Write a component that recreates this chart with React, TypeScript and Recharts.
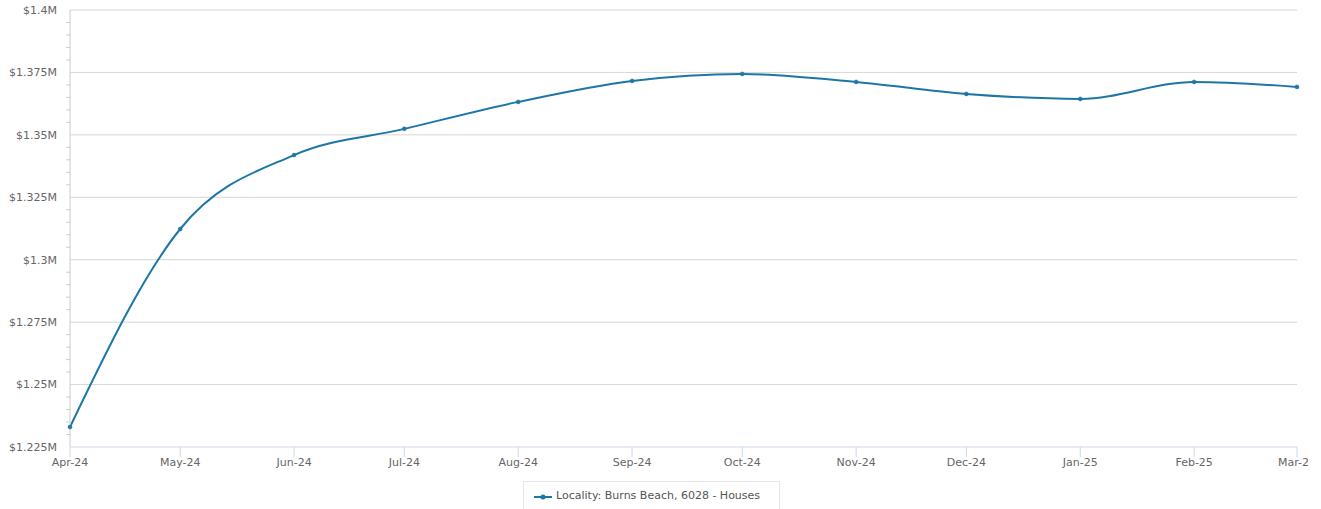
import React from 'react';
import { LineChart, Line, XAxis, YAxis, ReferenceLine, Legend } from 'recharts';

const monthLabels = ['Apr-24', 'May-24', 'Jun-24', 'Jul-24', 'Aug-24', 'Sep-24', 'Oct-24', 'Nov-24', 'Dec-24', 'Jan-25', 'Feb-25', 'Mar-25'];
const monthStarts = [
  Date.UTC(2024, 3, 1), Date.UTC(2024, 4, 1), Date.UTC(2024, 5, 1), Date.UTC(2024, 6, 1),
  Date.UTC(2024, 7, 1), Date.UTC(2024, 8, 1), Date.UTC(2024, 9, 1), Date.UTC(2024, 10, 1),
  Date.UTC(2024, 11, 1), Date.UTC(2025, 0, 1), Date.UTC(2025, 1, 1), Date.UTC(2025, 2, 1),
];
const medianPrice = [1233000, 1312300, 1341900, 1352400, 1363200, 1371600, 1374400, 1371200, 1366400, 1364400, 1371200, 1369200];

const majorTicks = [1225000, 1250000, 1275000, 1300000, 1325000, 1350000, 1375000, 1400000];
const minorTicks = [
  1230000, 1235000, 1240000, 1245000, 1255000, 1260000, 1265000, 1270000,
  1280000, 1285000, 1290000, 1295000, 1305000, 1310000, 1315000, 1320000,
  1330000, 1335000, 1340000, 1345000, 1355000, 1360000, 1365000, 1370000,
  1380000, 1385000, 1390000, 1395000,
];
const allTicks = [...majorTicks, ...minorTicks].sort((a, b) => a - b);

const SERIES_NAME = 'Locality: Burns Beach, 6028 - Houses';
const COLOR = '#1d76a5';
const LABEL_GAP = 13;

const data = monthStarts.map((t, i) => ({ t, price: medianPrice[i] }));

const fmtMoney = (v: number) => `$${+(v / 1e6).toFixed(3)}M`;
const fmtMonth = (t: number) => monthLabels[monthStarts.indexOf(t)] ?? '';

// major ticks get a label, minor ones only a short tick mark against the axis
const YTick = (props: any) => {
  const { x, y, payload } = props;
  const v = payload.value;
  if (majorTicks.includes(v)) {
    return (
      <text x={x} y={y} dy="0.355em" textAnchor="end" fill="#666666" fontSize={11}>
        {fmtMoney(v)}
      </text>
    );
  }
  return <line x1={x + LABEL_GAP - 4} x2={x + LABEL_GAP} y1={y} y2={y} stroke="#cccccc" />;
};

const LegendBox = () => (
  <div
    style={{
      position: 'absolute',
      left: 523,
      top: 481,
      width: 257,
      height: 30,
      border: '1px solid #e6e6e6',
      background: '#fff',
      boxSizing: 'border-box',
      fontFamily: '"DejaVu Sans", sans-serif',
      fontSize: 11,
      color: '#555',
    }}
  >
    <svg width={20} height={10} style={{ position: 'absolute', left: 10, top: 10 }}>
      <line x1={0} y1={5} x2={18} y2={5} stroke={COLOR} strokeWidth={2} />
      <circle cx={9} cy={5} r={2.5} fill={COLOR} />
    </svg>
    <span style={{ position: 'absolute', left: 32, top: 7, whiteSpace: 'nowrap' }}>{SERIES_NAME}</span>
  </div>
);

export default function App() {
  return (
    <div style={{ position: 'absolute', left: 0, top: 0, width: 1308, height: 509, overflow: 'hidden', background: '#fff' }}>
      <LineChart
        width={1321}
        height={509}
        data={data}
        margin={{ top: 10, right: 24, left: 0, bottom: 32 }}
        style={{ fontFamily: '"DejaVu Sans", sans-serif' }}
      >
        <YAxis
          width={70}
          domain={[1225000, 1400000]}
          ticks={allTicks}
          interval={0}
          type="number"
          axisLine={{ stroke: '#cccccc' }}
          tickLine={false}
          tickSize={0}
          tickMargin={LABEL_GAP}
          tick={<YTick />}
        />
        <XAxis
          dataKey="t"
          type="number"
          scale="time"
          domain={[monthStarts[0], monthStarts[monthStarts.length - 1]]}
          ticks={monthStarts}
          tickFormatter={fmtMonth}
          interval={0}
          height={30}
          axisLine={{ stroke: '#ccd6eb' }}
          tickLine={{ stroke: '#ccd6eb' }}
          tickSize={10}
          tickMargin={1}
          tick={{ fill: '#666666', fontSize: 11 }}
        />
        {majorTicks.slice(1).map((v) => (
          <ReferenceLine key={v} y={v} stroke="#d6d6d6" />
        ))}
        <Legend content={() => null} />
        <Line
          type="monotone"
          dataKey="price"
          name={SERIES_NAME}
          stroke={COLOR}
          strokeWidth={2}
          dot={{ r: 2, fill: COLOR, stroke: COLOR, strokeWidth: 0.5 }}
          activeDot={false}
          isAnimationActive={false}
        />
      </LineChart>
      <LegendBox />
    </div>
  );
}
